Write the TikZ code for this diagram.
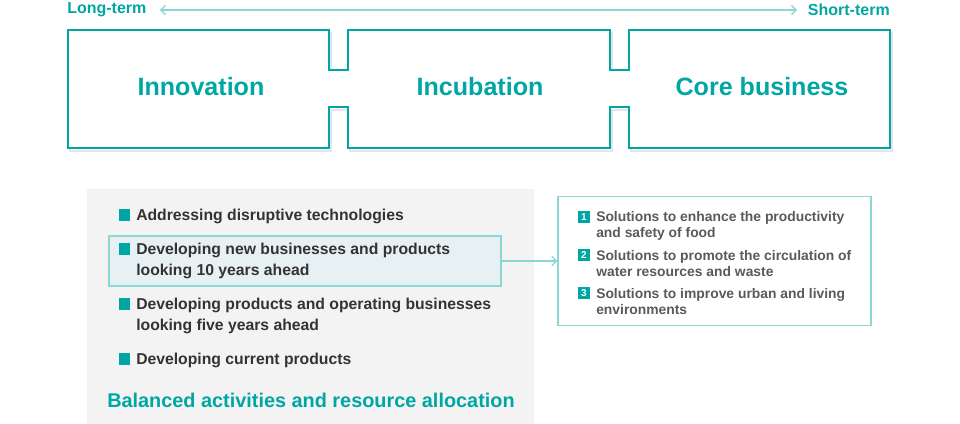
\documentclass[tikz,border=0pt]{standalone}
\usepackage{fontspec}
\setmainfont{Liberation Sans}
\setsansfont{Liberation Sans}
\usepackage{tikz}
\usetikzlibrary{positioning,arrows.meta,calc}
\definecolor{turquesa}{RGB}{0,166,163}
\definecolor{turquesaclaro}{RGB}{140,215,212}
\definecolor{panelgris}{RGB}{243,243,243}
\definecolor{resalte}{RGB}{231,241,243}
\definecolor{textooscuro}{RGB}{51,51,51}
\definecolor{textogris}{RGB}{90,90,90}

\begin{document}
\begin{tikzpicture}[x=0.75pt, y=-0.75pt, font=\sffamily\bfseries,
  etapa/.style={text=turquesa, font=\sffamily\bfseries\fontsize{18.8}{20}\selectfont},
  plazo/.style={text=turquesa, font=\sffamily\bfseries\fontsize{12}{14}\selectfont, inner sep=0pt},
  vineta/.style={fill=turquesa, minimum size=8.75pt, inner sep=0pt},
  actividad/.style={anchor=west, inner sep=0pt, align=left, text=textooscuro,
    font=\sffamily\bfseries\fontsize{11.8}{15.75}\selectfont},
  numero/.style={fill=turquesa, minimum size=9.5pt, inner sep=0pt, text=white,
    font=\sffamily\bfseries\fontsize{7.5}{8}\selectfont},
  solucion/.style={anchor=west, inner sep=0pt, align=left, text=textogris,
    font=\sffamily\bfseries\fontsize{10.4}{12}\selectfont},
  flecha/.style={turquesaclaro, line width=1pt, -{Straight Barb[length=3.5pt,width=7pt]}}]
  \useasboundingbox (0,0) rectangle (960,424);

  % escala temporal
  \node[plazo, anchor=west] (largo) at (67,10) {Long-term};
  \node[plazo, anchor=east] (corto) at (890,10) {Short-term};
  \draw[turquesaclaro, line width=1pt, {Straight Barb[length=3.5pt,width=7pt]}-{Straight Barb[length=3.5pt,width=7pt]}]
    ([xshift=10pt]largo.east) -- ([xshift=-8pt]corto.west);

  % piezas unidas
  \draw[black!10, line width=2pt, shift={(2,3)}]
    (68,30) -- (329,30) -- (329,70) -- (348,70) -- (348,30) -- (610,30) -- (610,70) -- (629,70)
    -- (629,30) -- (890,30) -- (890,148) -- (629,148) -- (629,107) -- (610,107) -- (610,148)
    -- (348,148) -- (348,107) -- (329,107) -- (329,148) -- (68,148) -- cycle;
  \draw[turquesa, line width=1.5pt, fill=white]
    (68,30) -- (329,30) -- (329,70) -- (348,70) -- (348,30) -- (610,30) -- (610,70) -- (629,70)
    -- (629,30) -- (890,30) -- (890,148) -- (629,148) -- (629,107) -- (610,107) -- (610,148)
    -- (348,148) -- (348,107) -- (329,107) -- (329,148) -- (68,148) -- cycle;
  \node[etapa] (innovacion) at (201,87) {Innovation};
  \node[etapa] (incubacion) at (480,87) {Incubation};
  \node[etapa] (nucleo) at (762,87) {Core business};

  % actividades
  \fill[panelgris] (87,189) rectangle (534,424);
  \node[fill=resalte, draw=turquesaclaro, line width=0.8pt, minimum width=294pt, minimum height=37.5pt,
    inner sep=0pt] (destacado) at (305,261) {};
  \node[vineta] (v1) at (124.5,215) {};
  \node[actividad] (a1) at (136,216.5) {Addressing disruptive technologies};
  \node[vineta] (v2) at (124.5,249) {};
  \node[actividad] (a2) at (136,261) {Developing new businesses and products\\looking 10 years ahead};
  \node[vineta] (v3) at (124.5,304) {};
  \node[actividad] (a3) at (136,316) {Developing products and operating businesses\\looking five years ahead};
  \node[vineta] (v4) at (124.5,359) {};
  \node[actividad] (a4) at (136,360.5) {Developing current products};
  \node[anchor=west, inner sep=0pt, text=turquesa, font=\sffamily\bfseries\fontsize{14.9}{16}\selectfont]
    (balance) at (107,400.5) {Balanced activities and resource allocation};

  % soluciones
  \node[draw=turquesaclaro, line width=0.8pt, fill=white, minimum width=234.75pt, minimum height=96.75pt,
    inner sep=0pt] (soluciones) at (714.5,261) {};
  \node[numero] (n1) at (584,217) {1};
  \node[solucion] (s1) at (596,225.5) {Solutions to enhance the productivity\\and safety of food};
  \node[numero] (n2) at (584,255) {2};
  \node[solucion] (s2) at (596,263.5) {Solutions to promote the circulation of\\water resources and waste};
  \node[numero] (n3) at (584,293) {3};
  \node[solucion] (s3) at (596,301.5) {Solutions to improve urban and living\\environments};

  \draw[flecha] (destacado.east) -- (soluciones.west);
\end{tikzpicture}
\end{document}
